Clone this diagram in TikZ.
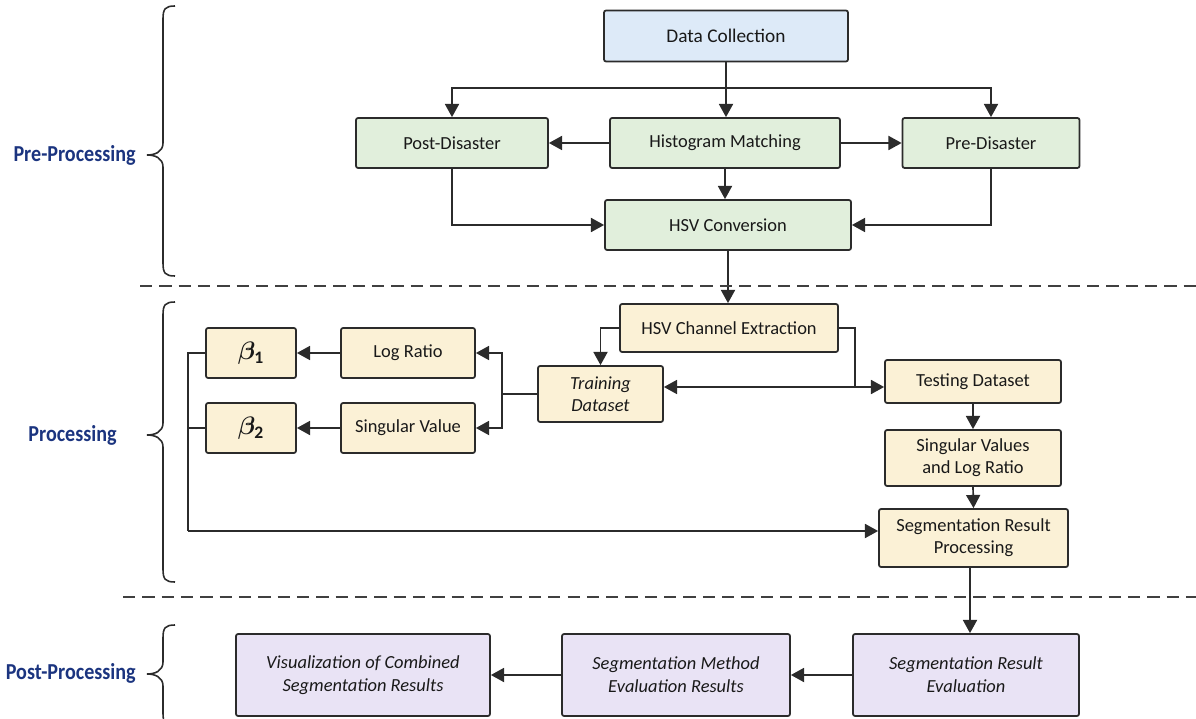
\documentclass[tikz,border=0pt]{standalone}
\usepackage{fontspec}
\usepackage{amsmath,bm,graphicx}
\setmainfont{Carlito}
\usetikzlibrary{arrows.meta,calc}

\definecolor{edge}{HTML}{2B2B2B}
\definecolor{fillblue}{HTML}{DDEAF8}
\definecolor{fillgreen}{HTML}{E1EFDC}
\definecolor{fillcream}{HTML}{FBF1D6}
\definecolor{fillpurple}{HTML}{E9E3F5}
\definecolor{stagecol}{HTML}{1B347F}

\tikzset{
  wh/.style 2 args={minimum width={#1*0.02cm}, minimum height={#2*0.02cm}},
  box/.style={draw=edge, line width=1pt, rounded corners=1.2pt, align=center,
    inner sep=2pt, font=\fontsize{10.5}{12.5}\selectfont, text=black!90},
  bluebox/.style={box, fill=fillblue},
  greenbox/.style={box, fill=fillgreen},
  creambox/.style={box, fill=fillcream},
  purplebox/.style={box, fill=fillpurple, font=\fontsize{10.5}{13}\selectfont\itshape},
  arr/.style={draw=edge, line width=0.95pt, -{Triangle[length=7.5pt,width=8pt]}},
  ln/.style={draw=edge, line width=0.95pt},
  stage/.style={font=\fontsize{13}{15}\selectfont\bfseries, text=stagecol,
    anchor=east, inner sep=0pt},
  bracepath/.style={draw=edge, line width=0.9pt},
  sep/.style={draw=edge!90, line width=1.1pt, dash pattern=on 7pt off 4pt},
}

% curly brace opening to the right: x of the ends, top, tip, bottom (pixel units)
\newcommand\stagebrace[4]{%
  \draw[bracepath] (#1,#2) .. controls (#1-10,#2) and (#1-12,#2+3) .. (#1-12,#2+13)
    -- (#1-12,#3-12) .. controls (#1-12,#3-3) and (#1-20,#3) .. (#1-28,#3)
    .. controls (#1-20,#3) and (#1-12,#3+3) .. (#1-12,#3+12)
    -- (#1-12,#4-13) .. controls (#1-12,#4-3) and (#1-10,#4) .. (#1,#4);}
% narrow the stage labels a little
\newcommand\narrow[1]{\scalebox{0.88}[1]{#1}}

\begin{document}
\begin{tikzpicture}[x=0.02cm, y=-0.02cm]
\useasboundingbox (0,0) rectangle (1196,719);

% ---------- Pre-processing ----------
\node[bluebox, wh={244}{51}] (dc) at (726,36) {\fontsize{11}{13}\selectfont Data Collection};
\node[greenbox, wh={192}{50}] (post) at (452,143) {Post-Disaster};
\node[greenbox, wh={230}{50}] (hist) at (725,143) {Histogram Matching};
\node[greenbox, wh={177}{50}] (pre) at (991,143) {Pre-Disaster};
\node[greenbox, wh={246}{50}] (hsvc) at (728,225) {HSV Conversion};

\coordinate (split) at (726,88);
\draw[arr] (dc.south) -- (dc.south |- hist.north);
\draw[arr] (split) -| (post.north);
\draw[arr] (split) -| (pre.north);
\draw[arr] (hist.west) -- (post.east);
\draw[arr] (hist.east) -- (pre.west);
\draw[arr] (hist.south) -- (hist.south |- hsvc.north);
\draw[arr] (post.south) |- (hsvc.west);
\draw[arr] (pre.south) |- (hsvc.east);

% ---------- Processing ----------
\node[creambox, wh={218}{48}] (hce) at (729,328) {HSV Channel Extraction};
\node[creambox, wh={125}{56}] (train) at (600.5,394) {\itshape Training\\\itshape Dataset};
\node[creambox, wh={176}{43}] (test) at (973,381.5) {Testing Dataset};
\node[creambox, wh={176}{56}] (svlr) at (973,458) {Singular Values\\and Log Ratio};
\node[creambox, wh={189}{58}] (srp) at (973.5,538) {Segmentation Result\\Processing};
\node[creambox, wh={134}{50}] (lr) at (408,353) {Log Ratio};
\node[creambox, wh={134}{50}] (sv) at (408,428) {Singular Value};
\node[creambox, wh={90}{50}] (b1) at (251,353) {\Large$\bm{\beta}_{\mathbf{1}}$};
\node[creambox, wh={90}{50}] (b2) at (251,428) {\Large$\bm{\beta}_{\mathbf{2}}$};

\draw[arr] (hsvc.south) -- (hsvc.south |- hce.north);
\draw[arr] (hce.west) -| (train.north);
\coordinate (tj) at (855,387);
\draw[ln] (hce.east) -| (tj);
\draw[arr] (tj) -- (train.east |- tj);
\draw[arr] (tj) -- (test.west |- tj);
\coordinate (fj) at (502,394);
\draw[ln] (train.west) -- (fj);
\draw[arr] (fj) |- (lr.east);
\draw[arr] (fj) |- (sv.east);
\draw[arr] (lr.west) -- (b1.east);
\draw[arr] (sv.west) -- (b2.east);
\coordinate (bj) at (188,531);
\draw[ln] (b1.west) -| (bj);
\draw[ln] (b2.west) -- (b2.west -| bj);
\draw[arr] (bj) -- (srp.west |- bj);
\draw[arr] (test.south) -- (svlr.north);
\draw[arr] (svlr.south) -- (srp.north);

% ---------- Post-processing ----------
\node[purplebox, wh={254}{82}] (vis) at (363,675) {Visualization of Combined\\Segmentation Results};
\node[purplebox, wh={228}{82}] (sme) at (676,675) {Segmentation Method\\Evaluation Results};
\node[purplebox, wh={226}{82}] (sre) at (966,675) {Segmentation Result\\Evaluation};

\draw[arr] ($(srp.south)+(-3.5,0)$) -- ($(srp.south |- sre.north)+(-3.5,0)$);
\draw[arr] (sre.west) -- (sme.east);
\draw[arr] (sme.west) -- (vis.east);

% ---------- stage separators ----------
\draw[sep] (140,286) -- (1196,286);
\draw[sep] (123,597) -- (1196,597);

% ---------- stage braces and labels ----------
\stagebrace{175}{6}{155}{276}
\stagebrace{175}{302}{435}{582}
\stagebrace{175}{625}{674}{726}
\node[stage] (lpre) at (136,155) {\narrow{Pre-Processing}};
\node[stage] (lproc) at (117,435) {\narrow{Processing}};
\node[stage] (lpost) at (136,673) {\narrow{Post-Processing}};
\end{tikzpicture}
\end{document}
